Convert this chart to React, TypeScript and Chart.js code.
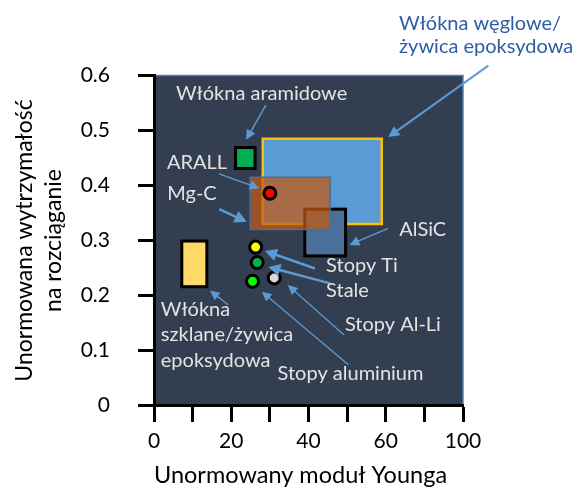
import React, { useEffect, useRef } from 'react';
import { Chart, registerables } from 'chart.js';

Chart.register(...registerables);

// ---- axis ticks ----
const xTickValues = [0, 12.5, 25, 37.5, 50, 62.5, 75, 87.5, 100];
const xTickLabels = ['0', '', '20', '', '40', '', '60', '', '100'];
const yTickValues = [0, 0.1, 0.2, 0.3, 0.4, 0.5, 0.6];
const yTickLabels = ['0', '0.1', '0.2', '0.3', '0.4', '0.5', '0.6'];

// ---- materials drawn as ranges (boxes) ----
const boxNames = ['Włókna węglowe/żywica epoksydowa', 'AlSiC', 'Mg-C', 'Włókna aramidowe', 'Włókna szklane/żywica epoksydowa'];
const boxXMin = [35.2, 48.8, 31.1, 26.4, 9.0];
const boxXMax = [73.7, 62.0, 57.0, 32.7, 17.1];
const boxYMin = [0.330, 0.272, 0.320, 0.431, 0.216];
const boxYMax = [0.485, 0.357, 0.415, 0.469, 0.299];

// ---- materials drawn as points ----
const pointNames = ['ARALL', 'Stopy Ti', 'Stale', 'Stopy aluminium', 'Stopy Al-Li'];
const pointX = [37.5, 32.9, 33.4, 31.9, 38.9];
const pointY = [0.386, 0.288, 0.260, 0.226, 0.232];

// ---- annotation labels (left edge, middle of first line) ----
const labelTexts = [
  ['Włókna aramidowe'],
  ['ARALL'],
  ['Mg-C'],
  ['AlSiC'],
  ['Stopy Ti'],
  ['Stale'],
  ['Stopy Al-Li'],
  ['Stopy aluminium'],
  ['Włókna', 'szklane/żywica', 'epoksydowa'],
  ['Włókna węglowe/', 'żywica epoksydowa'],
];
const labelX = [7.1, 4.2, 4.3, 79.4, 55.7, 55.7, 61.8, 40.0, 2.2, 79.3];
const labelY = [0.568, 0.442, 0.3845, 0.3204, 0.2542, 0.2082, 0.1464, 0.0585, 0.1749, 0.695];

// ---- arrows ----
const arrowFromX = [108.2, 36.2, 21.1, 21.1, 75.8, 52.1, 57.0, 61.5, 62.9, 24.0];
const arrowFromY = [0.618, 0.546, 0.421, 0.357, 0.322, 0.249, 0.222, 0.128, 0.074, 0.183];
const arrowToX = [75.8, 29.8, 34.1, 30.0, 63.2, 35.9, 37.0, 43.3, 34.9, 18.1];
const arrowToY = [0.488, 0.483, 0.395, 0.334, 0.292, 0.281, 0.252, 0.219, 0.207, 0.209];

// ---- styles ----
const FONT = 'Lato';
const PLOT_BG = '#333E50';
const boxFill = ['#5B9BD5', '#4A6F98', 'rgba(197,90,17,0.72)', '#00B050', '#FFD966'];
const boxStroke = ['#FFC000', '#000000', '#41719C', '#000000', '#000000'];
const boxLineWidth = [2.5, 3, 1.5, 3, 3];
const pointFill = ['#FF0000', '#FFFF00', '#00B050', '#00FF00', '#D9D9D9'];
const labelColor = ['#E3E3E3', '#E3E3E3', '#E3E3E3', '#E3E3E3', '#E3E3E3', '#E3E3E3', '#E3E3E3', '#E3E3E3', '#E3E3E3', '#2E5CA6'];
const labelLineHeight = [24, 24, 24, 24, 24, 24, 24, 24, 25.5, 23.5];
const arrowWidth = [2, 1.5, 1.3, 2.5, 1.5, 2.5, 2.5, 1.3, 1.3, 1.3];
const ARROW_COLOR = '#5B9BD5';

const materialsPlugin = {
  id: 'materials',
  beforeDraw(chart: any) {
    const { ctx, chartArea: a } = chart;
    ctx.save();
    ctx.fillStyle = PLOT_BG;
    ctx.fillRect(a.left, a.top, a.right - a.left, a.bottom - a.top);
    ctx.strokeStyle = '#4F81BD';
    ctx.lineWidth = 1.5;
    ctx.beginPath();
    ctx.moveTo(a.left, a.top);
    ctx.lineTo(a.right, a.top);
    ctx.lineTo(a.right, a.bottom);
    ctx.stroke();
    ctx.restore();
  },
  beforeDatasetsDraw(chart: any) {
    const { ctx, scales } = chart;
    const xs = scales.x;
    const ys = scales.y;
    ctx.save();
    for (let i = 0; i < boxNames.length; i++) {
      const x1 = xs.getPixelForValue(boxXMin[i]);
      const x2 = xs.getPixelForValue(boxXMax[i]);
      const y1 = ys.getPixelForValue(boxYMax[i]);
      const y2 = ys.getPixelForValue(boxYMin[i]);
      ctx.fillStyle = boxFill[i];
      ctx.fillRect(x1, y1, x2 - x1, y2 - y1);
      ctx.strokeStyle = boxStroke[i];
      ctx.lineWidth = boxLineWidth[i];
      ctx.strokeRect(x1, y1, x2 - x1, y2 - y1);
    }
    ctx.restore();
  },
  afterDatasetsDraw(chart: any) {
    const { ctx, scales } = chart;
    const xs = scales.x;
    const ys = scales.y;
    ctx.save();
    // arrows
    for (let i = 0; i < arrowFromX.length; i++) {
      const sx = xs.getPixelForValue(arrowFromX[i]);
      const sy = ys.getPixelForValue(arrowFromY[i]);
      const ex = xs.getPixelForValue(arrowToX[i]);
      const ey = ys.getPixelForValue(arrowToY[i]);
      const ang = Math.atan2(ey - sy, ex - sx);
      const w = arrowWidth[i];
      const hl = 7 + w * 2;
      const hw = 3 + w * 1.3;
      const bx = ex - Math.cos(ang) * hl * 0.9;
      const by = ey - Math.sin(ang) * hl * 0.9;
      ctx.strokeStyle = ARROW_COLOR;
      ctx.fillStyle = ARROW_COLOR;
      ctx.lineWidth = w;
      ctx.beginPath();
      ctx.moveTo(sx, sy);
      ctx.lineTo(bx, by);
      ctx.stroke();
      const px = -Math.sin(ang);
      const py = Math.cos(ang);
      const hx = ex - Math.cos(ang) * hl;
      const hy = ey - Math.sin(ang) * hl;
      ctx.beginPath();
      ctx.moveTo(ex, ey);
      ctx.lineTo(hx + px * hw, hy + py * hw);
      ctx.lineTo(hx - px * hw, hy - py * hw);
      ctx.closePath();
      ctx.fill();
    }
    // labels
    ctx.textAlign = 'left';
    ctx.textBaseline = 'middle';
    ctx.font = `20px ${FONT}`;
    for (let i = 0; i < labelTexts.length; i++) {
      const lx = xs.getPixelForValue(labelX[i]);
      const ly = ys.getPixelForValue(labelY[i]);
      ctx.fillStyle = labelColor[i];
      labelTexts[i].forEach((t, j) => ctx.fillText(t, lx, ly + j * labelLineHeight[i]));
    }
    ctx.restore();
  },
};

export default function App() {
  const ref = useRef<HTMLCanvasElement | null>(null);
  useEffect(() => {
    if (!ref.current) return;
    const chart = new Chart(ref.current, {
      type: 'scatter',
      data: {
        datasets: [
          {
            label: 'Materiały',
            data: pointX.map((x, i) => ({ x, y: pointY[i] })),
            pointRadius: 6,
            pointBorderWidth: 3,
            pointBackgroundColor: pointFill,
            pointBorderColor: '#000000',
            pointHoverRadius: 6,
          },
        ],
      },
      options: {
        animation: false,
        responsive: false,
        events: [],
        layout: { padding: { top: 75.5, right: 118, left: 0, bottom: 0 } },
        plugins: { legend: { display: false }, tooltip: { enabled: false } },
        scales: {
          x: {
            type: 'linear',
            min: 0,
            max: 100,
            afterBuildTicks: (s: any) => {
              s.ticks = xTickValues.map((v) => ({ value: v }));
            },
            afterFit: (s: any) => {
              s.height = 87.5;
            },
            border: { display: true, color: '#000000', width: 3 },
            grid: { drawOnChartArea: false, drawTicks: true, tickLength: 16.5, tickColor: '#000000', tickWidth: 3 },
            ticks: {
              autoSkip: false,
              maxRotation: 0,
              padding: 7,
              color: '#000000',
              font: { family: FONT, size: 21, lineHeight: 1.2 },
              callback: (_v: any, i: number) => xTickLabels[i],
            },
            title: {
              display: true,
              align: 'start',
              text: 'Unormowany moduł Younga',
              color: '#000000',
              font: { family: FONT, size: 23.5, lineHeight: 1.2 },
              padding: { top: 0, bottom: 3.5 },
            },
          },
          y: {
            type: 'linear',
            min: 0,
            max: 0.6,
            afterBuildTicks: (s: any) => {
              s.ticks = yTickValues.map((v) => ({ value: v }));
            },
            afterFit: (s: any) => {
              s.width = 154;
            },
            border: { display: true, color: '#000000', width: 3 },
            grid: { drawOnChartArea: false, drawTicks: true, tickLength: 16, tickColor: '#000000', tickWidth: 3 },
            ticks: {
              padding: 28,
              color: '#000000',
              font: { family: FONT, size: 21, lineHeight: 1.2 },
              callback: (_v: any, i: number) => yTickLabels[i],
            },
            title: {
              display: true,
              text: ['Unormowana wytrzymałość', 'na rozciąganie'],
              color: '#000000',
              font: { family: FONT, size: 23, lineHeight: 29 / 23 },
              padding: { top: 10.5, bottom: 0 },
            },
          },
        },
      },
      plugins: [materialsPlugin],
    } as any);
    return () => chart.destroy();
  }, []);
  return (
    <div style={{ position: 'fixed', left: 0, top: 0, width: 581, height: 493, background: '#ffffff' }}>
      <canvas ref={ref} width={581} height={493} style={{ display: 'block' }} />
    </div>
  );
}
